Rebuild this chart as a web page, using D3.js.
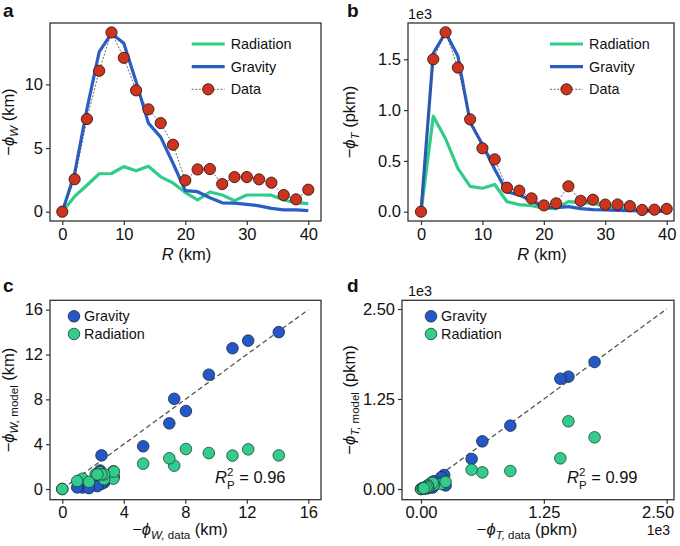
<!DOCTYPE html>
<html><head><meta charset="utf-8">
<script src="https://cdn.jsdelivr.net/npm/d3@7"></script>
<style>body{margin:0;background:#fff;} svg{display:block;} text{font-family:"Liberation Sans",Arial,Helvetica,sans-serif;fill:#111;}</style>
</head><body>
<svg id="c" width="680" height="546"></svg>
<script>
// ---- data ----
const R = [0,2,4,6,8,10,12,14,16,18,20,22,24,26,28,30,32,34,36,38,40];
const dataW = [0,2.55,7.28,11.07,14.08,12.09,9.53,8.04,6.96,5.26,2.46,3.32,3.35,2.17,2.72,2.72,2.54,2.28,1.31,0.97,1.73];
const gravW = [0,3.0,8.05,12.56,14.0,13.24,10.2,6.96,5.86,3.81,1.65,1.57,1.1,0.7,0.67,0.58,0.46,0.26,0.14,0.14,0.08];
const radW  = [0,1.2,2.08,2.98,3.0,3.54,3.21,3.57,2.74,2.26,1.5,0.92,1.55,1.31,0.87,1.31,1.31,1.3,0.92,0.71,0.63];
const dataT = [0,1500,1766,1418,909,624,515,236,207,131,62,82,250,107,118,70,71,55,17,20,28];
const gravT = [0,1560,1764,1532,880,662,417,195,164,108,43,40,50,30,20,17,13,10,7,5,4];
const radT  = [0,940,718,426,250,231,268,98,70,59,35,30,100,90,85,50,35,20,15,10,10];
const ticksRkm = [0,10,20,30,40];
const ticksWa = [0,5,10];
const ticksTb = [0,500,1000,1500];
const ticksWc = [0,4,8,12,16];
const ticksTd = [0,1250,2500];
const seriesNames = ["Radiation","Gravity","Data"];
const scatterNames = ["Gravity","Radiation"];
const r2 = ["0.96","0.99"];

// ---- style ----
const C_RAD = "#2fcc8a", C_GRAV = "#2a5ec4", C_DATA = "#cc3420";
const C_SGRAV = "#2458c6", C_SRAD = "#34cc8c";
const svg = d3.select("#c");

function frame(p){
  svg.append("rect").attr("x",p.x0).attr("y",p.y0).attr("width",p.x1-p.x0).attr("height",p.y1-p.y0)
    .attr("fill","none").attr("stroke","#333").attr("stroke-width",1.3);
}
function axes(p, x, y, xt, yt, xf, yf){
  const gx = svg.append("g").attr("transform",`translate(0,${p.y1})`)
    .call(d3.axisBottom(x).tickValues(xt).tickFormat(xf).tickSize(4).tickPadding(3));
  const gy = svg.append("g").attr("transform",`translate(${p.x0},0)`)
    .call(d3.axisLeft(y).tickValues(yt).tickFormat(yf).tickSize(4).tickPadding(3));
  [gx,gy].forEach(g=>{
    g.select(".domain").remove();
    g.selectAll(".tick line").attr("stroke","#333").attr("stroke-width",1.2);
    g.selectAll(".tick text").attr("font-size",16.5).attr("fill","#111")
      .style("font-family",'"Liberation Sans",Arial,sans-serif');
  });
  return gx;
}
function label(x,y,rot){
  const t = svg.append("text").attr("x",x).attr("y",y).attr("text-anchor","middle").attr("font-size",16.5);
  if(rot) t.attr("transform",`rotate(-90,${x},${y})`);
  return t;
}
function phiLabel(t, sub, extra, unit){
  t.append("tspan").text("−");
  t.append("tspan").attr("font-style","italic").text("ϕ");
  t.append("tspan").attr("font-style","italic").attr("font-size",11.5).attr("dy",4).text(sub);
  if(extra) t.append("tspan").attr("font-size",11.5).text(extra);
  t.append("tspan").attr("dy",-4).text(" "+unit);
}
function panelLetter(x,y,l){
  svg.append("text").attr("x",x).attr("y",y).attr("font-size",19).attr("font-weight","bold").text(l);
}

// ---- panel a & b (line plots) ----
function linePanel(p, x, y, dat, grav, rad, yt, yf, legX){
  frame(p);
  const line = vals => d3.line().x((d,i)=>x(R[i])).y(d=>y(d))(vals);
  svg.append("path").attr("d",line(rad)).attr("fill","none").attr("stroke",C_RAD).attr("stroke-width",3.2).attr("stroke-linejoin","round");
  svg.append("path").attr("d",line(grav)).attr("fill","none").attr("stroke",C_GRAV).attr("stroke-width",3.2).attr("stroke-linejoin","round");
  svg.append("path").attr("d",line(dat)).attr("fill","none").attr("stroke","#444").attr("stroke-width",0.8).attr("stroke-dasharray","2,1.6");
  svg.append("g").selectAll("circle").data(dat).join("circle")
    .attr("cx",(d,i)=>x(R[i])).attr("cy",d=>y(d)).attr("r",5.6)
    .attr("fill",C_DATA).attr("stroke","#3a1510").attr("stroke-width",0.9);
  axes(p,x,y,ticksRkm,yt,d3.format("d"),yf);
  const rows = [44,66.7,89.3];
  seriesNames.forEach((n,i)=>{
    const yy = rows[i];
    if(i<2){
      svg.append("line").attr("x1",legX).attr("x2",legX+33).attr("y1",yy).attr("y2",yy)
        .attr("stroke",i==0?C_RAD:C_GRAV).attr("stroke-width",3.2);
    } else {
      svg.append("line").attr("x1",legX).attr("x2",legX+33).attr("y1",yy).attr("y2",yy)
        .attr("stroke","#444").attr("stroke-width",0.8).attr("stroke-dasharray","2,1.6");
      svg.append("circle").attr("cx",legX+16.5).attr("cy",yy).attr("r",5.6)
        .attr("fill",C_DATA).attr("stroke","#3a1510").attr("stroke-width",0.9);
    }
    svg.append("text").attr("x",legX+39).attr("y",yy+5).attr("font-size",14.4).text(n);
  });
  const xl = label((p.x0+p.x1)/2+1, 259.5, false);
  xl.append("tspan").attr("font-style","italic").text("R");
  xl.append("tspan").text(" (km)");
}

const pa = {x0:50,x1:321,y0:23,y1:221};
const xa = d3.scaleLinear().domain([0,40]).range([62.3,308.3]);
const ya = d3.scaleLinear().domain([0,10]).range([211.7,84.4]);
linePanel(pa, xa, ya, dataW, gravW, radW, ticksWa, d3.format("d"), 191.7);
phiLabel(label(14, 122, true), "W", null, "(km)");
panelLetter(3,17,"a");

const pb = {x0:408,x1:674,y0:23,y1:221};
const xb = d3.scaleLinear().domain([0,40]).range([421,666.7]);
const yb = d3.scaleLinear().domain([0,1500]).range([211.7,59.3]);
linePanel(pb, xb, yb, dataT, gravT, radT, ticksTb, d=>(d/1000).toFixed(1), 550);
phiLabel(label(355, 122, true), "T", null, "(pkm)");
panelLetter(347,17,"b");
svg.append("text").attr("x",408).attr("y",19).attr("font-size",14.4).text("1e3");

// ---- panel c & d (scatter) ----
function scatterPanel(p, x, y, dat, grav, rad, ticks, tf, legX, maxv, r2txt, r2x){
  frame(p);
  svg.append("line").attr("x1",x(0)).attr("y1",y(0)).attr("x2",x(maxv)).attr("y2",y(maxv))
    .attr("stroke","#555").attr("stroke-width",1.3).attr("stroke-dasharray","5,3");
  svg.append("g").selectAll("circle").data(grav).join("circle")
    .attr("cx",(d,i)=>x(dat[i])).attr("cy",d=>y(d)).attr("r",5.8)
    .attr("fill",C_SGRAV).attr("stroke","#1a2a44").attr("stroke-width",0.8);
  svg.append("g").selectAll("circle").data(rad).join("circle")
    .attr("cx",(d,i)=>x(dat[i])).attr("cy",d=>y(d)).attr("r",5.8)
    .attr("fill",C_SRAD).attr("stroke","#1a4432").attr("stroke-width",0.8);
  const gx = axes(p,x,y,ticks,ticks,tf,tf);
  scatterNames.forEach((n,i)=>{
    const yy = 316.3 + i*17.7;
    svg.append("circle").attr("cx",legX).attr("cy",yy).attr("r",5.8)
      .attr("fill",i==0?C_SGRAV:C_SRAD).attr("stroke",i==0?"#1a2a44":"#1a4432").attr("stroke-width",0.8);
    svg.append("text").attr("x",legX+10).attr("y",yy+5).attr("font-size",14.4).text(n);
  });
  const t = svg.append("text").attr("x",r2x).attr("y",483).attr("font-size",16.5);
  t.append("tspan").attr("font-style","italic").text("R");
  t.append("tspan").attr("font-size",11.5).attr("dy",-7).text("2");
  t.append("tspan").attr("font-size",11.5).attr("dx",-6.4).attr("dy",13).text("P");
  t.append("tspan").attr("dy",-6).text(" = "+r2txt);
  return gx;
}

const pc = {x0:50,x1:321,y0:300.3,y1:499.7};
const xc = d3.scaleLinear().domain([0,16]).range([62.3,308.3]);
const yc = d3.scaleLinear().domain([0,16]).range([489,309.7]);
scatterPanel(pc, xc, yc, dataW, gravW, radW, ticksWc, d3.format("d"), 74, 16, r2[0], 215);
phiLabel(label(14, 400, true), "W,", " model", "(km)");
phiLabel(label(180, 535, false), "W,", " data", "(km)");
panelLetter(3,291.5,"c");

const pd = {x0:402,x1:674,y0:300.3,y1:499.7};
const xd = d3.scaleLinear().domain([0,2500]).range([421,666.7]);
const yd = d3.scaleLinear().domain([0,2500]).range([489,309]);
const gxd = scatterPanel(pd, xd, yd, dataT, gravT, radT, ticksTd, d=>(d/1000).toFixed(2), 431, 2500, r2[1], 567);
// keep last tick label inside the picture, as in the reference
gxd.selectAll(".tick text").filter(d=>d===2500).attr("text-anchor","end").attr("x",7);
phiLabel(label(355, 400, true), "T,", " model", "(pkm)");
phiLabel(label(527, 535, false), "T,", " data", "(pkm)");
panelLetter(347,291.5,"d");
svg.append("text").attr("x",408).attr("y",296).attr("font-size",14.4).text("1e3");
svg.append("text").attr("x",670).attr("y",535).attr("font-size",14).attr("text-anchor","end").text("1e3");
</script>
</body></html>
